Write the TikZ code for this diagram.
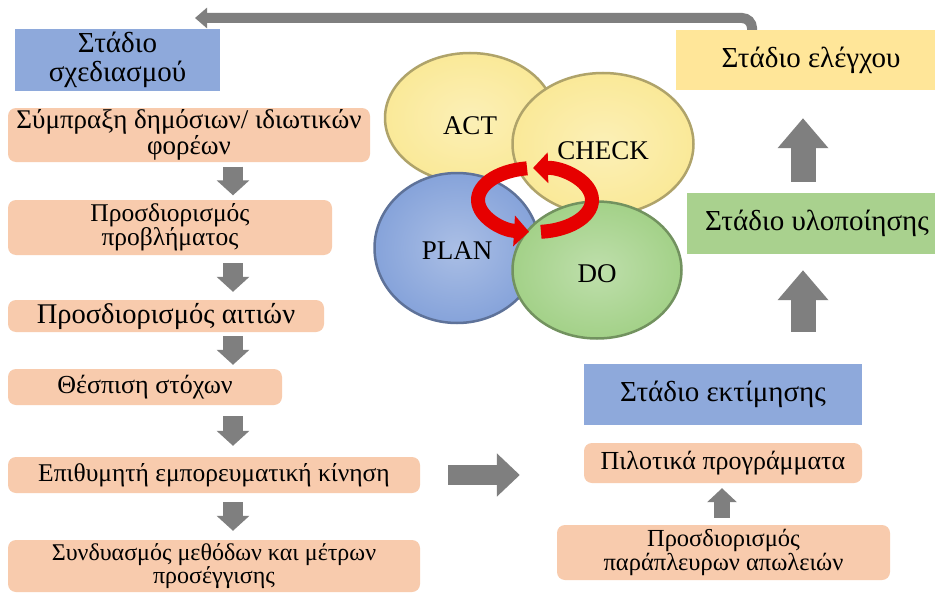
\documentclass[tikz,border=0pt]{standalone}
\usepackage{fontspec}
\setmainfont{Liberation Serif}
\usepackage{xcolor}
\definecolor{cBlue}  {HTML}{8EA9DB}
\definecolor{cSalmon}{HTML}{F8CBAD}
\definecolor{cYellow}{HTML}{FFE699}
\definecolor{cGreen} {HTML}{A9D18E}
\definecolor{cGray}  {HTML}{7F7F7F}
\definecolor{cRed}   {HTML}{E60000}
\definecolor{pYellow}{HTML}{FAE998}
\definecolor{pBlue}  {HTML}{86A3DA}
\definecolor{pGreen} {HTML}{A3D188}
\usetikzlibrary{shapes.geometric, arrows.meta, positioning, calc}
\tikzset{
  stg/.style  = {rectangle, fill=#1, inner sep=0pt, align=center,
                 font=\fontsize{29}{30}\selectfont},
  blk/.style  = {rectangle, fill=cSalmon, rounded corners=8pt, inner sep=0pt,
                 align=center, font=\fontsize{#1}{22}\selectfont},
  blk/.default = 25,
  pd/.style   = {ellipse, draw=#1!70!black, line width=2.5pt,
                 inner color=#1!70!white, outer color=#1, text depth=0pt,
                 font=\fontsize{27}{27}\selectfont},
  darr/.style = {draw=cGray, line width=20pt,
                 -{Triangle[length=15pt, width=32pt]},
                 shorten <=#1, shorten >=#1},
  uarr/.style = {draw=cGray, line width=25pt,
                 -{Triangle[length=30pt, width=49pt]}},
  cyc/.style  = {draw=cRed, line width=14pt,
                 -{Triangle[length=15pt, width=30pt]}},
}

\begin{document}
\begin{tikzpicture}[x=1pt, y=-1pt]
  \useasboundingbox[fill=white] (0,0) rectangle (935,594);

  %% Planning stage (left column)
  \node[stg=cBlue, minimum width=205pt, minimum height=62pt,
        font=\fontsize{29}{28.5}\selectfont] (sx) at (117.5,60)
        {Στάδιο\\σχεδιασμού};
  \node[blk=27, minimum width=362pt, minimum height=54pt] (b1) at (189,135)
        {Σύμπραξη δημόσιων/ ιδιωτικών\\φορέων};
  \node[blk=25.5, minimum width=324pt, minimum height=55pt] (b2) at (170,227.5)
        {Προσδιορισμός\\προβλήματος};
  \node[blk=28.5, minimum width=316pt, minimum height=32pt] (b3) at (166,316)
        {Προσδιορισμός αιτιών};
  \node[blk=26, minimum width=274pt, minimum height=36pt] (b4) at (145,387)
        {Θέσπιση στόχων};
  \node[blk=25.5, minimum width=412pt, minimum height=36pt] (b5) at (214,475)
        {Επιθυμητή εμπορευματική κίνηση};
  \node[blk=24, minimum width=412pt, minimum height=52pt] (b6) at (214,566)
        {Συνδυασμός μεθόδων και μέτρων\\προσέγγισης};

  \coordinate (ax) at (233,0);
  \draw[darr=4.5pt] (b1.south -| ax) -- (b2.north -| ax);
  \draw[darr=8pt]   (b2.south -| ax) -- (b3.north -| ax);
  \draw[darr=4pt]   (b3.south -| ax) -- (b4.north -| ax);
  \draw[darr=11pt]  (b4.south -| ax) -- (b5.north -| ax);
  \draw[darr=9pt]   (b5.south -| ax) -- (b6.north -| ax);

  %% Right column
  \node[stg=cYellow, minimum width=270pt, minimum height=60pt] (el) at (811,60)
        {Στάδιο ελέγχου};
  \node[stg=cGreen, minimum width=260pt, minimum height=61pt] (yl) at (817,223.5)
        {Στάδιο υλοποίησης};
  \node[stg=cBlue, minimum width=278pt, minimum height=61pt] (ek) at (723,394.5)
        {Στάδιο εκτίμησης};
  \node[blk=26, minimum width=278pt, minimum height=40pt] (pil) at (723,463)
        {Πιλοτικά προγράμματα};
  \node[blk=24.5, minimum width=333pt, minimum height=55pt] (pr) at (723.5,552.5)
        {Προσδιορισμός\\παράπλευρων απωλειών};

  \coordinate (ux) at (803,0);
  \draw[uarr, shorten <=11pt, shorten >=28pt] (yl.north -| ux) -- (el.south -| ux);
  \draw[uarr, shorten <=32pt, shorten >=16pt] (ek.north -| ux) -- (yl.south -| ux);
  \coordinate (px) at (722,0);
  \draw[draw=cGray, line width=16pt, -{Triangle[length=14pt, width=29pt]},
        shorten <=7pt, shorten >=5pt] (pr.north -| px) -- (pil.south -| px);

  %% Links between the columns
  \draw[draw=cGray, line width=20pt, -{Triangle[length=23pt, width=42pt]},
        shorten <=28pt, shorten >=64pt] (b5.east) -- (b5.east -| pil.west);
  \coordinate (ret) at (195,18);
  \draw[draw=cGray, line width=10pt, rounded corners=10pt,
        -{Triangle[length=12pt, width=20pt]}] ([xshift=-59pt]el.north) |- (ret);

  %% PDCA cycle
  \node[pd=pYellow, minimum width=170pt, minimum height=130pt, text height=32pt]
        (act) at (470,118) {ACT};
  \node[pd=pYellow, minimum width=181pt, minimum height=142pt, text height=30pt]
        (chk) at (603,144) {CHECK};
  \node[pd=pBlue, minimum width=165pt, minimum height=150pt, text height=22pt]
        (plan) at (457,248) {PLAN};
  \node[pd=pGreen, minimum width=169pt, minimum height=137pt, text height=24pt]
        (do) at (597,270) {DO};

  \coordinate (cc) at (535,200);
  \draw[cyc] ($(cc)+(262:57 and 32)$)
        arc[start angle=262, end angle=96, x radius=57, y radius=32];
  \draw[cyc] ($(cc)+(84:57 and 32)$)
        arc[start angle=84, end angle=-92, x radius=57, y radius=32];

\end{tikzpicture}
\end{document}
